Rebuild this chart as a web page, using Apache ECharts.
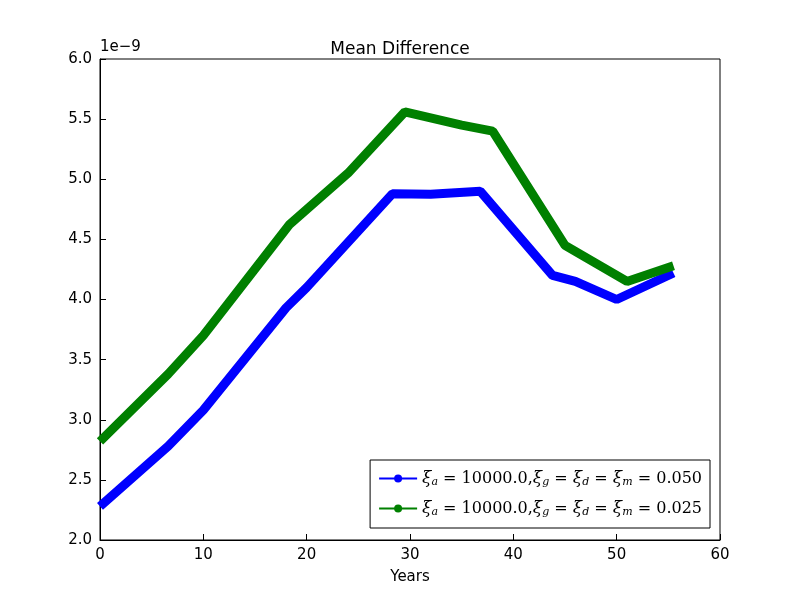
<!DOCTYPE html>
<html><head><meta charset="utf-8">
<script src="https://cdn.jsdelivr.net/npm/echarts@6/dist/echarts.min.js"></script>
<style>html,body{margin:0;background:#fff}#c{width:800px;height:600px}</style>
</head><body><div id="c"></div>
<script>
// values in units of 1e-9
var yearsA = [0, 6.6, 10, 18, 20, 28.3, 32, 36.8, 43.8, 46, 50, 55.5];
var meanA = [2.28, 2.78, 3.08, 3.93, 4.1, 4.88, 4.875, 4.9, 4.2, 4.15, 4.0, 4.22];
var yearsB = [0, 6.6, 10, 18.3, 24, 29.5, 35, 38, 45, 51, 55.5];
var meanB = [2.82, 3.38, 3.7, 4.62, 5.05, 5.56, 5.45, 5.4, 4.45, 4.15, 4.28];
var names = ['0.050', '0.025'];

function pairs(xs, ys) { return xs.map(function (x, i) { return [x, ys[i]]; }); }
function legendName(v) {
  return '{i|ξ}{s|a}{t| = 10000.0,}{i|ξ}{s|g}{t| = }{i|ξ}{s|d}{t| = }{i|ξ}{s|m}{t| = ' + v + '}';
}

var chart = echarts.init(document.getElementById('c'));
var font = 'DejaVu Sans';
chart.setOption({
  animation: false,
  textStyle: { fontFamily: font },
  title: { text: 'Mean Difference', left: 'center', top: 36,
    textStyle: { fontSize: 17, fontWeight: 'normal', color: '#000', fontFamily: font } },
  graphic: [{ type: 'text', left: 100, top: 40,
    style: { text: '1e\u22129', fontSize: 15, fill: '#000', fontFamily: font } }],
  grid: { left: 100, right: 80, top: 59, bottom: 60 },
  xAxis: {
    type: 'value', min: 0, max: 60, interval: 10, name: 'Years',
    nameLocation: 'middle', nameGap: 30,
    nameTextStyle: { fontSize: 15, color: '#000' },
    axisLine: { lineStyle: { color: '#000' } },
    axisTick: { inside: true, length: 6 },
    axisLabel: { fontSize: 15, color: '#000' },
    splitLine: { show: false }
  },
  yAxis: {
    type: 'value', min: 2, max: 6, interval: 0.5,
    axisLine: { show: true, lineStyle: { color: '#000' } },
    axisTick: { show: true, inside: true, length: 6 },
    axisLabel: { fontSize: 15, color: '#000', formatter: function (v) { return v.toFixed(1); } },
    splitLine: { show: false }
  },
  legend: {
    orient: 'vertical', right: 90, bottom: 72, itemWidth: 38, itemHeight: 10,
    itemGap: 12, padding: [10, 8, 10, 8], borderColor: '#000', borderWidth: 1,
    backgroundColor: '#fff', borderRadius: 0,
    data: [legendName(names[0]), legendName(names[1])],
    textStyle: { fontSize: 16, color: '#000',
      rich: { i: { fontStyle: 'italic', fontSize: 17, fontFamily: 'DejaVu Serif' },
              s: { fontSize: 11, fontStyle: 'italic', verticalAlign: 'bottom', padding: [8, 0, 0, 0], fontFamily: 'DejaVu Serif' },
              t: { fontSize: 16, fontFamily: 'DejaVu Serif' } } }
  },
  series: [
    { name: legendName(names[0]), type: 'line', data: pairs(yearsA, meanA), symbol: 'none',
      color: '#0000ff', lineStyle: { width: 9, color: '#0000ff' } },
    { name: legendName(names[1]), type: 'line', data: pairs(yearsB, meanB), symbol: 'none',
      color: '#008000', lineStyle: { width: 9, color: '#008000' } }
  ]
});
// top and right frame
chart.setOption({ graphic: [{ type: 'text', left: 100, top: 40,
  style: { text: '1e\u22129', fontSize: 15, fill: '#000', fontFamily: font } },
  { type: 'rect', shape: { x: 100, y: 59, width: 620, height: 481 },
    style: { fill: 'none', stroke: '#000', lineWidth: 1 }, silent: true, z: -1 }] });
</script></body></html>
